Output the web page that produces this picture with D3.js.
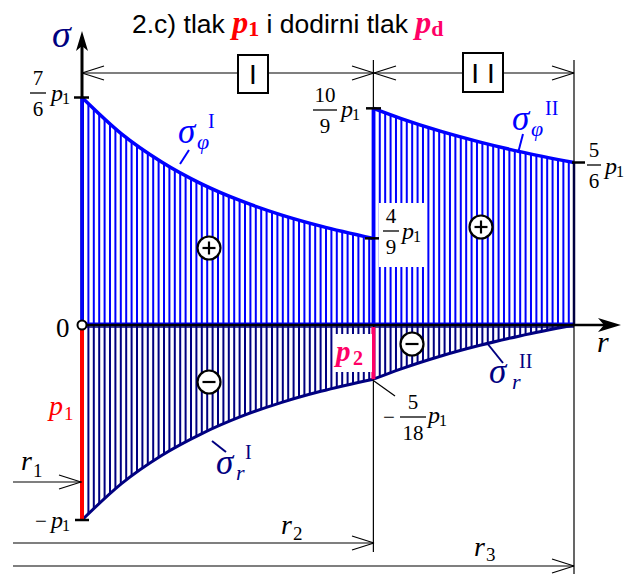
<!DOCTYPE html>
<html>
<head>
<meta charset="utf-8">
<script src="https://cdn.jsdelivr.net/npm/d3@7"></script>
<style>body{margin:0;background:#fff}</style>
</head>
<body>
<svg id="chart" width="637" height="574"></svg>
<script>
// radii r1, r2, r3 (in units of r1)
const radii = [1, 1.732, 2.236];

// region I: r, sigma_phi and sigma_r (units of p1)
const rI = [1.0, 1.1, 1.2, 1.3, 1.4, 1.5, 1.6, 1.732];
const sigPhiI = [1.167, 0.979, 0.836, 0.724, 0.636, 0.565, 0.507, 0.444];
const sigRI = [-1.0, -0.812, -0.669, -0.558, -0.469, -0.398, -0.340, -0.278];

// region II
const rII = [1.732, 1.8, 1.9, 2.0, 2.1, 2.236];
const sigPhiII = [1.111, 1.060, 0.994, 0.938, 0.889, 0.833];
const sigRII = [-0.278, -0.226, -0.160, -0.104, -0.056, 0.0];

const serif = "Liberation Serif";
const sans = "Liberation Sans";
const blue = "#0000ff", navy = "#000080", red = "#ff0000", pink = "#ff0066";

const svg = d3.select("#chart");
const x = d3.scaleLinear().domain([radii[0], radii[2]]).range([82, 574]);
const y = d3.scaleLinear().domain([-1, 7/6]).range([520, 97.5]);

function zip(rs, ss) { return rs.map((r, i) => ({r: r, s: ss[i]})); }

const regions = [
  {id: "I", phi: zip(rI, sigPhiI), rad: zip(rI, sigRI)},
  {id: "II", phi: zip(rII, sigPhiII), rad: zip(rII, sigRII)}
];

const area = d3.area()
  .x(d => x(d.r))
  .y0(y(0))
  .y1(d => y(d.s))
  .curve(d3.curveMonotoneX);
const line = d3.line()
  .x(d => x(d.r))
  .y(d => y(d.s))
  .curve(d3.curveMonotoneX);

const defs = svg.append("defs");
const step = 5.4;

/* hatched areas: vertical lines clipped by the area */
function hatchArea(data, clipId, color) {
  defs.append("clipPath").attr("id", clipId)
    .append("path").attr("d", area(data));
  let x0 = x(data[0].r), x1 = x(data[data.length - 1].r);
  let g = svg.append("g").attr("clip-path", "url(#" + clipId + ")");
  for (let xx = x0 + 1; xx < x1; xx += step) {
    g.append("line")
      .attr("x1", xx).attr("x2", xx)
      .attr("y1", 60).attr("y2", 540)
      .attr("stroke", color).attr("stroke-width", 2);
  }
}

regions.forEach(reg => {
  hatchArea(reg.phi, "cp" + reg.id, blue);
  hatchArea(reg.rad, "cr" + reg.id, navy);
});

// zero base lines of the areas
svg.append("line").attr("x1", x(radii[0])).attr("x2", x(radii[2]))
  .attr("y1", y(0) - 1).attr("y2", y(0) - 1)
  .attr("stroke", blue).attr("stroke-width", 3);
svg.append("line").attr("x1", x(radii[0])).attr("x2", x(radii[2]))
  .attr("y1", y(0) + 2).attr("y2", y(0) + 2)
  .attr("stroke", navy).attr("stroke-width", 1.5);

// curves
regions.forEach(reg => {
  svg.append("path").attr("d", line(reg.phi))
    .attr("fill", "none").attr("stroke", blue).attr("stroke-width", 3.5);
  svg.append("path").attr("d", line(reg.rad))
    .attr("fill", "none").attr("stroke", navy).attr("stroke-width", 3);
});

// thin construction lines
function thin(x1, y1, x2, y2, w, color) {
  svg.append("line").attr("x1", x1).attr("y1", y1).attr("x2", x2).attr("y2", y2)
    .attr("stroke", color || "#000").attr("stroke-width", w || 1.2);
}
thin(x(radii[1]), 60, x(radii[1]), 552);
thin(x(radii[2]), 60, x(radii[2]), 574);

// region edges
svg.append("line").attr("x1", x(radii[1])).attr("x2", x(radii[1]))
  .attr("y1", y(sigPhiII[0])).attr("y2", y(0))
  .attr("stroke", blue).attr("stroke-width", 3.5);
svg.append("line").attr("x1", x(radii[2])).attr("x2", x(radii[2]))
  .attr("y1", y(sigPhiII[sigPhiII.length - 1])).attr("y2", y(0))
  .attr("stroke", "#000040").attr("stroke-width", 2.5);

// sigma axis
svg.append("line").attr("x1", 82).attr("x2", 82).attr("y1", y(-1)).attr("y2", 46)
  .attr("stroke", "#000").attr("stroke-width", 3);
svg.append("path").attr("d", "M82,31 L88,51 L82,46 L76,51 Z").attr("fill", "#000");
svg.append("line").attr("x1", 82).attr("x2", 82).attr("y1", y(sigPhiI[0])).attr("y2", y(0))
  .attr("stroke", blue).attr("stroke-width", 3.5);
// inner pressure p1 and contact pressure p2
svg.append("line").attr("x1", 82).attr("x2", 82).attr("y1", y(0) + 2).attr("y2", y(-1))
  .attr("stroke", red).attr("stroke-width", 4);
svg.append("line").attr("x1", x(radii[1])).attr("x2", x(radii[1]))
  .attr("y1", y(0) + 2).attr("y2", y(sigRII[0]))
  .attr("stroke", pink).attr("stroke-width", 4);

// r axis
svg.append("line").attr("x1", 82).attr("x2", 605).attr("y1", y(0)).attr("y2", y(0))
  .attr("stroke", "#000").attr("stroke-width", 2.5);
svg.append("path").attr("d", "M621,325 L598,318 L604,325 L598,332 Z").attr("fill", "#000");
svg.append("circle").attr("cx", 82).attr("cy", y(0)).attr("r", 4.5)
  .attr("fill", "#fff").attr("stroke", "#000").attr("stroke-width", 2);

// dimension lines
function openHead(tx, ty, dir) {
  // dir: 1 = pointing right, -1 = pointing left
  thin(tx, ty, tx - dir * 22, ty - 7);
  thin(tx, ty, tx - dir * 22, ty + 7);
}
thin(82, 73, 574, 73);
openHead(82, 73, -1);
openHead(374, 73, 1);
openHead(374, 73, -1);
openHead(574, 73, 1);
thin(13, 543, 374, 543);
openHead(374, 543, 1);
thin(13, 566, 574, 566);
openHead(574, 566, 1);
thin(13, 482, 82, 482);
openHead(81, 482, 1);

// region boxes
function regionBox(x0, y0, w, h, label) {
  svg.append("rect").attr("x", x0).attr("y", y0).attr("width", w).attr("height", h)
    .attr("fill", "#fff").attr("stroke", "#000").attr("stroke-width", 2);
  svg.append("text").attr("x", x0 + w / 2).attr("y", y0 + h / 2 + 10)
    .attr("text-anchor", "middle")
    .style("font-family", sans).style("font-size", "28px").text(label);
}
regionBox(238, 55, 30, 38, "I");
regionBox(463, 53, 40, 39, "I I");

// tick marks
function tick(x1, x2, v) {
  svg.append("line").attr("x1", x1).attr("x2", x2).attr("y1", y(v)).attr("y2", y(v))
    .attr("stroke", "#000").attr("stroke-width", 2.5);
}
tick(74, 89, 7/6);
tick(366, 381, 10/9);
tick(365, 379, 4/9);
tick(572, 585, 5/6);
tick(75, 89, -1);

function txt(xx, yy, s, size, opts) {
  opts = opts || {};
  return svg.append("text").attr("x", xx).attr("y", yy).text(s)
    .style("font-family", opts.family || serif)
    .style("font-size", size + "px")
    .style("font-style", opts.italic ? "italic" : "normal")
    .style("font-weight", opts.bold ? "bold" : "normal")
    .attr("text-anchor", opts.anchor || "start")
    .attr("fill", opts.color || "#000");
}

function p1(xx, yy) {
  txt(xx, yy, "p", 24, {italic: true});
  txt(xx + 11, yy + 3, "1", 16);
}

function fraction(cx, barY, halfW, num, den) {
  txt(cx, barY - 8, num, 21, {anchor: "middle"});
  txt(cx, barY + 23, den, 21, {anchor: "middle"});
  svg.append("line").attr("x1", cx - halfW).attr("x2", cx + halfW)
    .attr("y1", barY).attr("y2", barY).attr("stroke", "#000").attr("stroke-width", 1.3);
}

// white box behind 4/9 label
svg.append("rect").attr("x", 379).attr("y", 203).attr("width", 48).attr("height", 64).attr("fill", "#fff");
// white box behind p2 label
svg.append("rect").attr("x", 335).attr("y", 334).attr("width", 37).attr("height", 38).attr("fill", "#fff");

fraction(38, 93, 8, "7", "6"); p1(51, 101);
fraction(325, 110, 12, "10", "9"); p1(341, 117);
fraction(391, 231, 8, "4", "9"); p1(402, 239);
fraction(594, 165, 7, "5", "6"); p1(605, 174);
fraction(413, 417, 13, "5", "18"); p1(428, 423);
txt(383, 424, "\u2212", 21);
txt(35, 528, "\u2212", 21);
p1(51, 528);
txt(56, 337, "0", 27);

// leader for -5/18
thin(374, 381, 395, 396);

// axis labels
txt(52, 47, "\u03c3", 38, {italic: true, color: navy});
txt(597, 352, "r", 30, {italic: true});
txt(21, 470, "r", 28, {italic: true}); txt(33, 477, "1", 19);
txt(281, 534, "r", 28, {italic: true}); txt(293, 540, "2", 19);
txt(474, 556, "r", 28, {italic: true}); txt(486, 561, "3", 19);

// p1 and p2 labels
txt(49, 415, "p", 28, {italic: true, color: red});
txt(64, 420, "1", 19, {color: red});
txt(336, 361, "p", 29, {italic: true, bold: true, color: pink});
txt(353, 365, "2", 20, {bold: true, color: pink});

// sigma curve labels
function sigLabel(xx, yy, sub, sup, subDx, supDx, color) {
  txt(xx, yy, "\u03c3", 35, {italic: true, color: color});
  txt(xx + subDx, yy + 6, sub, 22, {italic: true, color: color});
  txt(xx + supDx, yy - 15, sup, 20, {color: color});
}
sigLabel(178, 143, "\u03c6", "I", 19, 30, blue);
thin(189, 150, 180, 164, 2, blue);
sigLabel(512, 130, "\u03c6", "II", 19, 33, blue);
thin(523, 134, 518, 153, 2, blue);
sigLabel(216, 474, "r", "I", 20, 29, navy);
thin(212, 441, 226, 452, 2, navy);
sigLabel(489, 383, "r", "II", 23, 30, navy);
thin(487, 343, 503, 363, 2, navy);

// sign circles
function sign(cx, cy, plus) {
  svg.append("circle").attr("cx", cx).attr("cy", cy).attr("r", 11.5)
    .attr("fill", "#fff").attr("stroke", "#000").attr("stroke-width", 2.2);
  svg.append("line").attr("x1", cx - 6.5).attr("x2", cx + 6.5).attr("y1", cy).attr("y2", cy)
    .attr("stroke", "#000").attr("stroke-width", 2.2);
  if (plus) {
    svg.append("line").attr("x1", cx).attr("x2", cx).attr("y1", cy - 6.5).attr("y2", cy + 6.5)
      .attr("stroke", "#000").attr("stroke-width", 2.2);
  }
}
sign(209, 248, true);
sign(481, 227, true);
sign(209, 382, false);
sign(412, 344, false);

// title
const title = svg.append("text").attr("x", 132).attr("y", 33)
  .style("font-family", sans).style("font-size", "26.5px");
title.append("tspan").text("2.c) tlak ");
title.append("tspan").text("p").style("font-family", serif).style("font-style", "italic")
  .style("font-weight", "bold").style("font-size", "32px").attr("fill", red);
title.append("tspan").text("1").style("font-family", serif).style("font-weight", "bold")
  .style("font-size", "22px").attr("fill", red).attr("dy", 3);
title.append("tspan").text(" i dodirni tlak ").attr("dy", -3);
title.append("tspan").text("p").style("font-family", serif).style("font-style", "italic")
  .style("font-weight", "bold").style("font-size", "32px").attr("fill", pink);
title.append("tspan").text("d").style("font-family", serif).style("font-weight", "bold")
  .style("font-size", "22px").attr("fill", pink).attr("dy", 3);
</script>
</body>
</html>
